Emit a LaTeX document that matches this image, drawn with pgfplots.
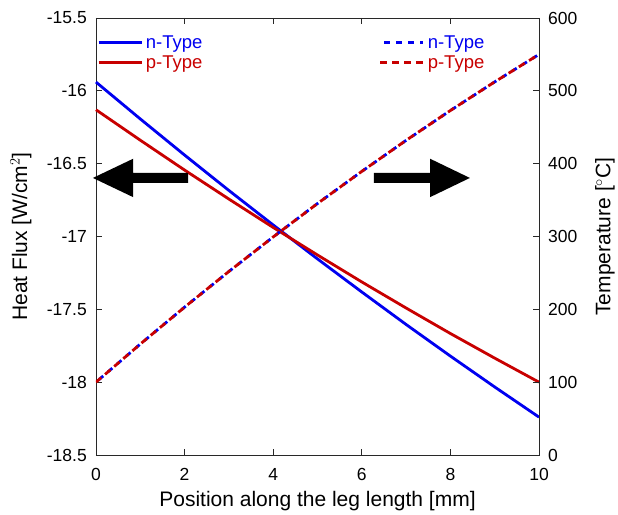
\documentclass[border=0pt]{standalone}
\usepackage{pgfplots}
\pgfplotsset{compat=1.18}
\usepackage{fontspec}
\setmainfont{Liberation Sans}
\definecolor{nCol}{RGB}{0,0,240}
\definecolor{pCol}{RGB}{200,0,0}
\definecolor{axCol}{RGB}{40,40,40}

\pgfplotsset{
  common/.style={
    at={(0,0)}, anchor=south west,
    scale only axis, width=443pt, height=437pt,
    xmin=0, xmax=10, tick align=inside, major tick length=6.5pt,
    axis line style={axCol, line width=0.8pt},
    every tick/.style={axCol, line width=0.8pt},
    /pgf/number format/assume math mode=true,
    tick label style={font=\fontsize{17.5}{19}\selectfont, inner sep=0pt},
    label style={font=\fontsize{21}{23}\selectfont},
    legend style={draw=none, fill=none, font=\fontsize{18.5}{20}\selectfont,
      row sep=0pt, inner sep=0pt, outer sep=0pt,
      nodes={inner sep=2.9pt}},
    legend cell align=left,
  },
  legend image code/.code={\draw[#1] (0pt,0pt) -- (43pt,0pt);},
}

\begin{document}
\begin{tikzpicture}
\begin{axis}[common,
  ytick pos=left, xtick pos=both,
  ymin=-18.5, ymax=-15.5, ytick={-18.5,-18,...,-15.5},
  yticklabel style={/pgf/number format/fixed, anchor=east, xshift=-9pt},
  xtick={0,2,...,10},
  xticklabel style={anchor=center, yshift=-19pt},
  xlabel={Position along the leg length [mm]},
  ylabel={Heat Flux [W/cm$^2$]},
  ylabel style={at={([xshift=-75pt]axis description cs:0,0.5)}, anchor=center},
  xlabel style={at={([yshift=-46pt]axis description cs:0.5,0)}, anchor=center},
  clip=false,
  legend style={at={(0.0025,0.967)}, anchor=north west},
]
\addplot[nCol, line width=2.8pt] coordinates {
(0,-15.940)(1,-16.193)(2,-16.441)(3,-16.684)(4,-16.921)(5,-17.154)
(6,-17.381)(7,-17.604)(8,-17.821)(9,-18.033)(10,-18.240)};
\addlegendentry{\textcolor{nCol}{n-Type}}
\addplot[pCol, line width=2.8pt] coordinates {
(0,-16.130)(1,-16.339)(2,-16.544)(3,-16.743)(4,-16.938)(5,-17.127)
(6,-17.312)(7,-17.491)(8,-17.666)(9,-17.835)(10,-18.000)};
\addlegendentry{\textcolor{pCol}{p-Type}}
% arrows
\fill[black] (axis cs:2.08,-16.564) -- (axis cs:0.84,-16.564) -- (axis cs:0.84,-16.466)
  -- (axis cs:-0.07,-16.598) -- (axis cs:0.84,-16.73) -- (axis cs:0.84,-16.632)
  -- (axis cs:2.08,-16.632) -- cycle;
\fill[black] (axis cs:6.27,-16.564) -- (axis cs:7.54,-16.564) -- (axis cs:7.54,-16.466)
  -- (axis cs:8.44,-16.598) -- (axis cs:7.54,-16.73) -- (axis cs:7.54,-16.632)
  -- (axis cs:6.27,-16.632) -- cycle;
\end{axis}
\begin{axis}[common,
  axis y line*=right, axis x line=none,
  ymin=0, ymax=600, ytick={0,100,...,600},
  yticklabel style={anchor=west, xshift=9pt},
  ylabel={Temperature [$^\circ$C]},
  ylabel style={at={([xshift=66pt]axis description cs:1,0.5)}, anchor=center},
  legend style={at={(0.639,0.967)}, anchor=north west},
]
\addplot[nCol, line width=2.8pt, dash pattern=on 5.5pt off 6.5pt, dash phase=8pt] coordinates {
(0,100)(1,152.3)(2,203.0)(3,252.0)(4,299.4)(5,345.3)
(6,389.4)(7,432.0)(8,473.0)(9,512.3)(10,550)};
\addlegendentry{\textcolor{nCol}{n-Type}}
\addplot[pCol, line width=2.8pt, dash pattern=on 7pt off 5pt] coordinates {
(0,100)(1,152.3)(2,203.0)(3,252.0)(4,299.4)(5,345.3)
(6,389.4)(7,432.0)(8,473.0)(9,512.3)(10,550)};
\addlegendentry{\textcolor{pCol}{p-Type}}
\end{axis}
\pgfresetboundingbox
\path (-96pt,-59pt) rectangle (522pt,455pt);
\end{tikzpicture}
\end{document}
